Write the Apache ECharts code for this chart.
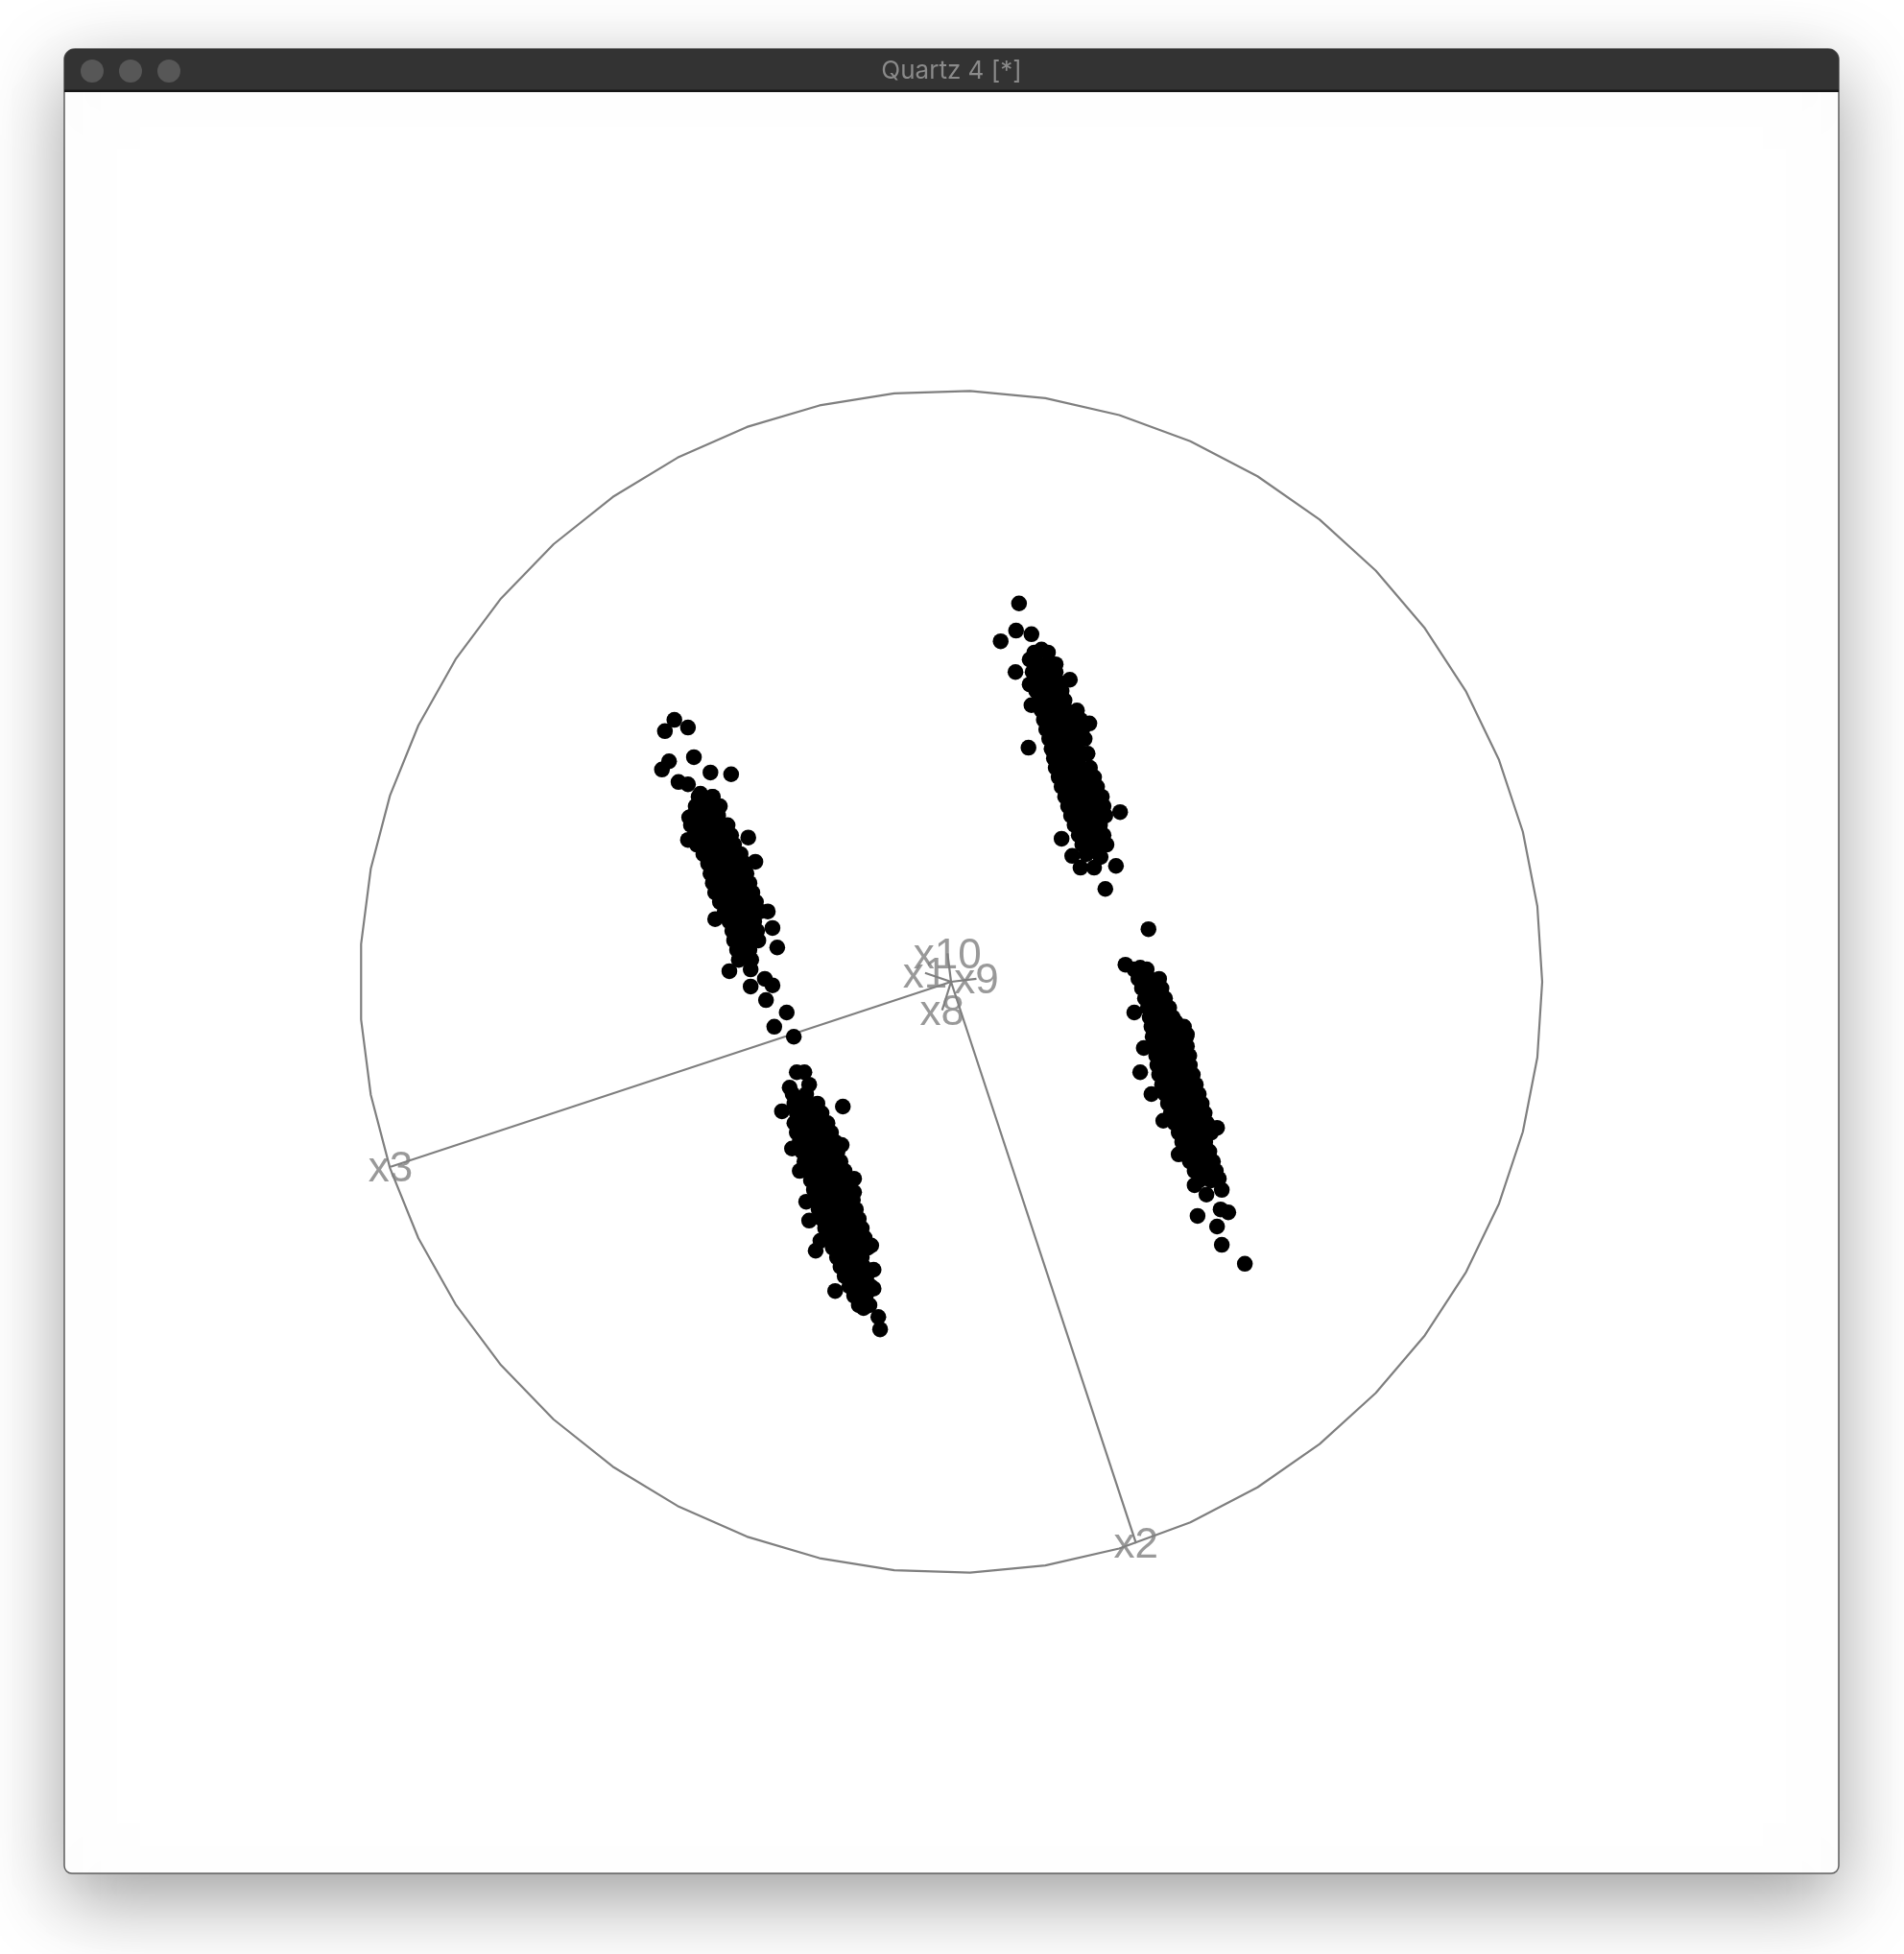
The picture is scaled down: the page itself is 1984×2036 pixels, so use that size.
<!DOCTYPE html>
<html><head><meta charset="utf-8">
<script src="https://cdn.jsdelivr.net/npm/echarts@6/dist/echarts.min.js"></script>
<style>html,body{margin:0;padding:0;background:#fff;}#c{width:1984px;height:2036px;}</style>
</head><body><div id="c"></div>
<script>
// ---- chart content ----
const windowTitle = 'Quartz 4 [*]';

// projected axis end points (unit circle frame)
const axisNames = ['x1', 'x2', 'x3', 'x8', 'x9', 'x10'];
const axisX = [-0.044, 0.313, -0.948, -0.015, 0.043, -0.006];
const axisY = [0.015, -0.950, -0.313, -0.048, 0.005, 0.048];

// projected observations, one list per cluster
const clusterA = [
  [-0.468,0.443],[-0.484,0.424],[-0.445,0.430],[-0.477,0.373],[-0.489,0.359],[-0.435,0.380],[-0.407,0.354],[-0.372,0.351],
  [-0.461,0.338],[-0.445,0.334],[-0.424,0.318],[-0.403,0.313],[-0.443,0.278],[-0.343,0.244],[-0.445,0.240],[-0.331,0.203],
  [-0.310,0.119],[-0.302,0.091],[-0.294,0.058],[-0.399,0.106],[-0.375,0.018],[-0.339,-0.008],[-0.339,0.021],[-0.315,0.005],
  [-0.302,-0.006],[-0.313,-0.031],[-0.278,-0.052],[-0.299,-0.076],[-0.266,-0.093],
  [-0.427,0.313],[-0.404,0.313],
  [-0.432,0.297],[-0.411,0.297],[-0.391,0.297],
  [-0.437,0.281],[-0.416,0.281],[-0.394,0.281],
  [-0.440,0.265],[-0.419,0.265],[-0.398,0.265],[-0.378,0.265],
  [-0.433,0.248],[-0.412,0.248],[-0.391,0.248],[-0.372,0.248],
  [-0.430,0.232],[-0.409,0.232],[-0.388,0.232],[-0.367,0.232],
  [-0.419,0.216],[-0.398,0.216],[-0.377,0.216],[-0.356,0.216],
  [-0.411,0.200],[-0.390,0.200],[-0.369,0.200],[-0.349,0.200],
  [-0.407,0.183],[-0.386,0.183],[-0.365,0.183],[-0.346,0.183],
  [-0.403,0.167],[-0.382,0.167],[-0.360,0.167],[-0.341,0.167],
  [-0.399,0.151],[-0.378,0.151],[-0.357,0.151],[-0.336,0.151],
  [-0.391,0.135],[-0.370,0.135],[-0.349,0.135],[-0.330,0.135],
  [-0.383,0.119],[-0.362,0.119],[-0.341,0.119],[-0.323,0.119],
  [-0.375,0.102],[-0.354,0.102],[-0.333,0.102],
  [-0.370,0.086],[-0.349,0.086],[-0.328,0.086],
  [-0.367,0.070],[-0.346,0.070],[-0.326,0.070],
  [-0.362,0.054],[-0.341,0.054],
  [-0.359,0.037],[-0.338,0.037],
  [-0.425,0.289],[-0.403,0.273],[-0.421,0.256],[-0.400,0.240],[-0.378,0.224],[-0.394,0.208],[-0.375,0.192],
  [-0.394,0.175],[-0.371,0.159],[-0.387,0.143],[-0.366,0.127],[-0.352,0.111],[-0.360,0.094],[-0.356,0.078]
];

const clusterB = [
  [0.115,0.640],[0.110,0.594],[0.084,0.576],[0.136,0.588],[0.153,0.562],[0.133,0.545],[0.177,0.537],[0.109,0.524],
  [0.201,0.511],[0.133,0.503],[0.136,0.468],[0.234,0.437],[0.131,0.396],[0.286,0.287],[0.187,0.242],[0.205,0.213],
  [0.219,0.193],[0.242,0.193],[0.279,0.196],[0.261,0.157],[0.253,0.211],
  [0.141,0.557],[0.164,0.557],
  [0.144,0.541],[0.166,0.541],
  [0.138,0.524],[0.157,0.524],[0.177,0.524],
  [0.141,0.508],[0.161,0.508],[0.180,0.508],
  [0.144,0.492],[0.166,0.492],[0.187,0.492],
  [0.149,0.476],[0.170,0.476],[0.192,0.476],
  [0.153,0.459],[0.174,0.459],[0.195,0.459],[0.213,0.459],
  [0.157,0.443],[0.179,0.443],[0.200,0.443],[0.219,0.443],
  [0.161,0.427],[0.182,0.427],[0.203,0.427],[0.222,0.427],
  [0.166,0.411],[0.187,0.411],[0.208,0.411],[0.226,0.411],
  [0.170,0.394],[0.192,0.394],[0.213,0.394],[0.231,0.386],
  [0.174,0.378],[0.195,0.378],[0.216,0.378],
  [0.177,0.362],[0.198,0.362],[0.219,0.362],[0.235,0.362],
  [0.182,0.346],[0.203,0.346],[0.224,0.346],[0.242,0.346],
  [0.187,0.330],[0.208,0.330],[0.229,0.330],[0.247,0.330],
  [0.193,0.313],[0.214,0.313],[0.235,0.313],[0.255,0.313],
  [0.198,0.297],[0.219,0.297],[0.240,0.297],[0.258,0.297],
  [0.203,0.281],[0.224,0.281],[0.245,0.281],[0.261,0.281],
  [0.209,0.265],[0.231,0.265],[0.252,0.265],
  [0.216,0.248],[0.237,0.248],[0.258,0.248],
  [0.222,0.232],[0.244,0.232],[0.263,0.232],
  [0.229,0.216],[0.250,0.216],
  [0.152,0.516],[0.170,0.500],[0.158,0.484],[0.181,0.468],[0.163,0.451],[0.190,0.435],[0.172,0.419],
  [0.197,0.403],[0.183,0.386],[0.205,0.370],[0.190,0.354],[0.213,0.338],[0.200,0.321],[0.225,0.305],
  [0.210,0.289],[0.235,0.273],[0.226,0.256],[0.244,0.240]
];

const clusterC = [
  [-0.261,-0.153],[-0.248,-0.153],[-0.273,-0.179],[-0.240,-0.174],[-0.286,-0.219],[-0.183,-0.211],[-0.269,-0.282],[-0.185,-0.276],
  [-0.256,-0.320],[-0.164,-0.333],[-0.164,-0.356],[-0.245,-0.372],[-0.240,-0.404],[-0.229,-0.455],[-0.221,-0.438],[-0.135,-0.446],
  [-0.196,-0.523],[-0.131,-0.487],[-0.131,-0.519],[-0.123,-0.567],[-0.120,-0.588],[-0.148,-0.552],
  [-0.268,-0.190],[-0.245,-0.190],
  [-0.265,-0.206],[-0.244,-0.206],[-0.226,-0.206],
  [-0.261,-0.222],[-0.240,-0.222],[-0.219,-0.222],
  [-0.265,-0.239],[-0.245,-0.239],[-0.226,-0.239],[-0.209,-0.239],
  [-0.261,-0.255],[-0.240,-0.255],[-0.221,-0.255],[-0.203,-0.255],
  [-0.256,-0.271],[-0.235,-0.271],[-0.214,-0.271],[-0.196,-0.271],
  [-0.252,-0.287],[-0.231,-0.287],[-0.209,-0.287],[-0.192,-0.287],
  [-0.248,-0.304],[-0.227,-0.304],[-0.206,-0.304],[-0.187,-0.304],
  [-0.242,-0.320],[-0.221,-0.320],[-0.200,-0.320],[-0.180,-0.320],
  [-0.237,-0.336],[-0.216,-0.336],[-0.195,-0.336],[-0.175,-0.336],
  [-0.232,-0.352],[-0.211,-0.352],[-0.190,-0.352],[-0.170,-0.352],
  [-0.227,-0.369],[-0.206,-0.369],[-0.185,-0.369],[-0.166,-0.369],
  [-0.224,-0.385],[-0.203,-0.385],[-0.182,-0.385],[-0.161,-0.385],
  [-0.219,-0.401],[-0.198,-0.401],[-0.177,-0.401],[-0.156,-0.401],
  [-0.213,-0.417],[-0.192,-0.417],[-0.170,-0.417],[-0.151,-0.417],
  [-0.206,-0.433],[-0.185,-0.433],[-0.164,-0.433],[-0.146,-0.433],
  [-0.200,-0.450],[-0.179,-0.450],[-0.157,-0.450],[-0.141,-0.450],
  [-0.193,-0.466],[-0.172,-0.466],[-0.151,-0.466],
  [-0.187,-0.482],[-0.166,-0.482],[-0.148,-0.482],
  [-0.180,-0.498],[-0.161,-0.498],[-0.143,-0.498],
  [-0.172,-0.515],[-0.153,-0.515],[-0.136,-0.515],
  [-0.164,-0.531],[-0.144,-0.531],
  [-0.156,-0.547],[-0.138,-0.547],
  [-0.255,-0.198],[-0.232,-0.214],[-0.252,-0.230],[-0.231,-0.247],[-0.212,-0.263],[-0.226,-0.279],[-0.200,-0.295],
  [-0.216,-0.312],[-0.190,-0.328],[-0.206,-0.344],[-0.180,-0.360],[-0.195,-0.377],[-0.170,-0.393],[-0.188,-0.409],
  [-0.160,-0.425],[-0.175,-0.441],[-0.160,-0.458],[-0.176,-0.474],[-0.156,-0.490],[-0.145,-0.506]
];

const clusterD = [
  [0.334,0.089],[0.295,0.029],[0.320,0.024],[0.310,-0.052],[0.380,-0.068],[0.399,-0.089],[0.326,-0.112],[0.320,-0.153],
  [0.339,-0.190],[0.359,-0.235],[0.450,-0.247],[0.385,-0.292],[0.412,-0.344],[0.453,-0.333],[0.458,-0.352],[0.432,-0.360],
  [0.417,-0.396],[0.456,-0.385],[0.469,-0.390],[0.450,-0.414],[0.458,-0.445],[0.497,-0.477],
  [0.310,0.021],[0.331,0.021],
  [0.317,0.005],[0.336,0.005],[0.352,0.005],
  [0.323,-0.011],[0.343,-0.011],[0.356,-0.011],
  [0.328,-0.028],[0.347,-0.028],[0.362,-0.028],
  [0.333,-0.044],[0.352,-0.044],[0.369,-0.044],
  [0.336,-0.060],[0.356,-0.060],[0.375,-0.060],
  [0.339,-0.076],[0.359,-0.076],[0.378,-0.076],[0.394,-0.076],
  [0.341,-0.093],[0.360,-0.093],[0.380,-0.093],[0.398,-0.093],
  [0.344,-0.109],[0.364,-0.109],[0.383,-0.109],[0.399,-0.109],
  [0.347,-0.125],[0.367,-0.125],[0.386,-0.125],[0.403,-0.125],
  [0.349,-0.141],[0.369,-0.141],[0.388,-0.141],[0.404,-0.141],
  [0.352,-0.157],[0.372,-0.157],[0.391,-0.157],[0.409,-0.157],
  [0.357,-0.174],[0.377,-0.174],[0.396,-0.174],[0.414,-0.174],
  [0.362,-0.190],[0.382,-0.190],[0.401,-0.190],[0.419,-0.190],
  [0.367,-0.206],[0.386,-0.206],[0.406,-0.206],[0.424,-0.206],
  [0.372,-0.222],[0.391,-0.222],[0.411,-0.222],[0.429,-0.222],
  [0.378,-0.239],[0.398,-0.239],[0.417,-0.239],[0.433,-0.239],
  [0.385,-0.255],[0.404,-0.255],[0.424,-0.255],[0.440,-0.255],
  [0.391,-0.271],[0.411,-0.271],[0.430,-0.271],
  [0.398,-0.287],[0.417,-0.287],[0.437,-0.287],
  [0.404,-0.304],[0.424,-0.304],[0.443,-0.304],
  [0.412,-0.320],[0.432,-0.320],[0.448,-0.320],
  [0.420,-0.336],[0.440,-0.336],
  [0.322,0.013],[0.345,-0.003],[0.333,-0.019],[0.356,-0.036],[0.343,-0.052],[0.366,-0.068],[0.349,-0.085],
  [0.370,-0.101],[0.356,-0.117],[0.377,-0.133],[0.361,-0.149],[0.382,-0.166],[0.369,-0.182],[0.391,-0.198],
  [0.380,-0.214],[0.401,-0.230],[0.393,-0.247],[0.414,-0.263],[0.408,-0.279],[0.428,-0.296],[0.421,-0.312]
];

// reference circle: theta = seq(0, 2*pi, length = 50)
const circleVertexCount = 50;
const circlePath = [];
for (let i = 0; i < circleVertexCount; i++) {
  const t = 2 * Math.PI * i / (circleVertexCount - 1);
  circlePath.push([Math.cos(t), Math.sin(t)]);
}

// ---- build chart ----
const grey = '#7f7f7f';
const series = [];
series.push({type: 'line', data: circlePath, symbol: 'none', smooth: false, silent: true,
  lineStyle: {color: grey, width: 2.2}, z: 2});
axisNames.forEach((n, i) => {
  series.push({type: 'line', data: [[0, 0], [axisX[i], axisY[i]]], symbol: 'none', silent: true,
    lineStyle: {color: grey, width: 2.2}, z: 2});
});
series.push({type: 'scatter', silent: true, symbol: 'circle', symbolSize: 1,
  itemStyle: {color: 'rgba(0,0,0,0)'},
  data: axisNames.map((n, i) => ({name: n, value: [axisX[i], axisY[i]]})),
  label: {show: true, position: 'inside', offset: [0, 3], formatter: '{b}', color: grey, fontSize: 44,
    fontFamily: 'Liberation Sans, Arial, sans-serif'}, z: 3});
[clusterA, clusterB, clusterC, clusterD].forEach(c => {
  series.push({type: 'scatter', data: c, symbol: 'circle', symbolSize: 16.5, silent: true,
    itemStyle: {color: '#000000', opacity: 1}, z: 4});
});

const chart = echarts.init(document.getElementById('c'), null, {renderer: 'canvas'});
chart.setOption({
  animation: false,
  backgroundColor: '#ffffff',
  grid: {left: 128.6, top: 160.6, width: 1724.8, height: 1724.8},
  xAxis: {type: 'value', min: -1.4, max: 1.4, show: false},
  yAxis: {type: 'value', min: -1.4, max: 1.4, show: false},
  graphic: {elements: [
    {type: 'rect', z: -10, shape: {x: 67, y: 51, width: 1849, height: 1901, r: [11, 11, 8, 8]},
      style: {fill: '#ffffff', stroke: '#5e5e5e', lineWidth: 1.5, shadowBlur: 80, shadowOffsetY: 26,
        shadowColor: 'rgba(0,0,0,0.38)'}},
    {type: 'rect', z: -9, shape: {x: 67, y: 51, width: 1849, height: 44, r: [11, 11, 0, 0]},
      style: {fill: '#333333'}},
    {type: 'rect', z: -9, shape: {x: 67, y: 93.5, width: 1849, height: 2.5}, style: {fill: '#161616'}},
    {type: 'circle', z: -8, shape: {cx: 96, cy: 74, r: 12}, style: {fill: '#575757'}},
    {type: 'circle', z: -8, shape: {cx: 136, cy: 74, r: 12}, style: {fill: '#575757'}},
    {type: 'circle', z: -8, shape: {cx: 176, cy: 74, r: 12}, style: {fill: '#575757'}},
    {type: 'text', z: -8, x: 991.5, y: 74,
      style: {text: windowTitle, fill: '#8a8a8a', font: '26px Inter, "Liberation Sans", sans-serif',
        align: 'center', verticalAlign: 'middle', textAlign: 'center', textVerticalAlign: 'middle'}}
  ]},
  series: series
});
</script></body></html>
